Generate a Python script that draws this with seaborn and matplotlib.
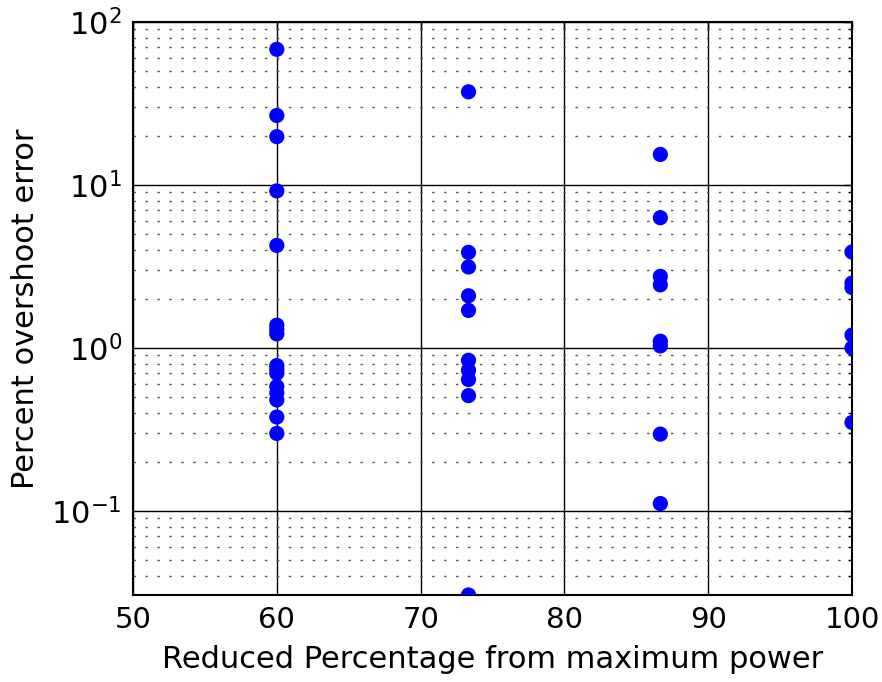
import numpy as np
import pandas as pd
import matplotlib
matplotlib.use('Agg')
import matplotlib.pyplot as plt
import seaborn as sns
from matplotlib.ticker import LogLocator

levels = [60.0, 73.33, 86.67, 100.0]
err_60 = [68, 26.7, 19.8, 9.2, 4.26, 1.38, 1.30, 1.22, 0.78, 0.74, 0.70,
          0.58, 0.53, 0.48, 0.377, 0.299]
err_73 = [37.3, 3.86, 3.14, 2.09, 1.70, 0.84, 0.73, 0.64, 0.51, 0.0305]
err_87 = [15.4, 6.3, 2.75, 2.44, 1.10, 1.03, 0.296, 0.111]
err_100 = [3.88, 2.5, 2.35, 1.2, 1.0, 0.349]
x_ticks = [50, 60, 70, 80, 90, 100]

rows = []
for lev, errs in zip(levels, [err_60, err_73, err_87, err_100]):
    for e in errs:
        rows.append({'reduced': lev, 'overshoot': e})
df = pd.DataFrame(rows)

sns.set_style('white')
plt.rcParams['font.family'] = ['DejaVu Sans']
plt.rcParams['text.color'] = 'black'
plt.rcParams['axes.labelcolor'] = 'black'
plt.rcParams['xtick.color'] = 'black'
plt.rcParams['ytick.color'] = 'black'
plt.rcParams['axes.unicode_minus'] = False

fig = plt.figure(figsize=(8.82, 6.82), dpi=100)
ax = fig.add_axes([0.1508, 0.1276, 0.8152, 0.8401])

sns.scatterplot(data=df, x='reduced', y='overshoot', ax=ax, color='blue',
                s=120, edgecolor='none', linewidth=0, zorder=3)

ax.set_yscale('log')
ax.set_xlim(50, 100)
ax.set_ylim(0.0305, 100)
ax.set_xticks(x_ticks)
ax.yaxis.set_major_locator(LogLocator(base=10))
ax.yaxis.set_minor_locator(LogLocator(base=10, subs=np.arange(2, 10)))

ax.grid(True, which='major', color='black', linestyle='-', linewidth=1.0)
ax.grid(True, which='minor', axis='y', color='0.35',
        linestyle=(0, (1.8, 6.8)), linewidth=1.0)
ax.set_axisbelow(True)

ax.tick_params(which='both', direction='in', top=True, right=True,
               color='black')
ax.tick_params(axis='x', labelsize=21)
ax.tick_params(axis='y', labelsize=22)
ax.tick_params(which='major', length=6, width=1, pad=8)
ax.tick_params(which='minor', length=3, width=1)
for sp in ax.spines.values():
    sp.set_color('black')
    sp.set_linewidth(1.5)

ax.set_xlabel('Reduced Percentage from maximum power', fontsize=22, labelpad=8)
ax.set_ylabel('Percent overshoot error', fontsize=22, labelpad=8)

fig.savefig('out.png', dpi=100)
